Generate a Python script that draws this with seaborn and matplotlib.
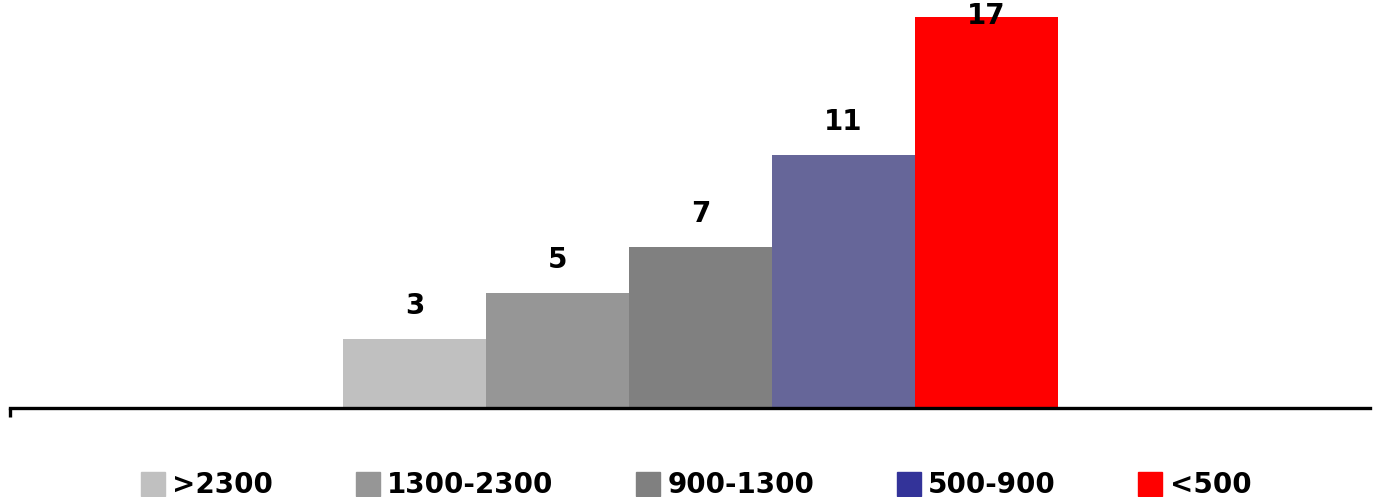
import numpy as np
import pandas as pd
import matplotlib.pyplot as plt
from matplotlib.lines import Line2D
import seaborn as sns

# data
kategorie = ['>2300', '1300-2300', '900-1300', '500-900', '<500']
wartosci = [3, 5, 7, 11, 17]
kolory_slupkow = ['#C0C0C0', '#969696', '#808080', '#666699', '#FF0000']
kolory_legendy = ['#C0C0C0', '#969696', '#808080', '#333399', '#FF0000']

sns.set_style('white')
plt.rcParams['font.family'] = ['DejaVu Sans']
plt.rcParams['text.color'] = 'black'

df = pd.DataFrame({'kat': kategorie, 'wart': wartosci})

fig = plt.figure(figsize=(13.82, 4.97), dpi=100)
ax = fig.add_axes([10 / 1382, 89 / 497, 1360 / 1382, 408 / 497])
sns.barplot(data=df, x='kat', y='wart', hue='kat', palette=kolory_slupkow,
            order=kategorie, hue_order=kategorie, width=1.0, dodge=False,
            legend=False, saturation=1, linewidth=0, edgecolor='none', ax=ax)

ax.set_xlim(-2.829, 6.682)
ax.set_ylim(0, 17.74)

# etykiety nad slupkami (najwyzsza wchodzi w slupek)
for i, v in enumerate(wartosci):
    y = min(v + 0.83, ax.get_ylim()[1] - 1.31)
    ax.text(i, y, str(v), ha='center', va='bottom', fontsize=20,
            fontweight='bold', color='black')

for s in ['top', 'right', 'left']:
    ax.spines[s].set_visible(False)
ax.spines['bottom'].set_linewidth(2.4)
ax.spines['bottom'].set_color('black')
ax.set_yticks([])
ax.set_xticks([ax.get_xlim()[0]])
ax.set_xticklabels([''])
ax.tick_params(axis='x', direction='out', length=6.5, width=2.4,
               color='black', bottom=True)
ax.set_xlabel('')
ax.set_ylabel('')

uchwyty = [Line2D([], [], marker='s', linestyle='none', markersize=17.5,
                  markerfacecolor=k, markeredgecolor=k) for k in kolory_legendy]
leg = fig.legend(uchwyty, kategorie, loc='lower center', ncol=5,
                 bbox_to_anchor=(0.503, -0.055), frameon=False,
                 prop={'size': 20, 'weight': 'bold'}, labelcolor='black',
                 handletextpad=0.2, columnspacing=2.9, handlelength=1.0)

fig.savefig('out.png', dpi=100)
